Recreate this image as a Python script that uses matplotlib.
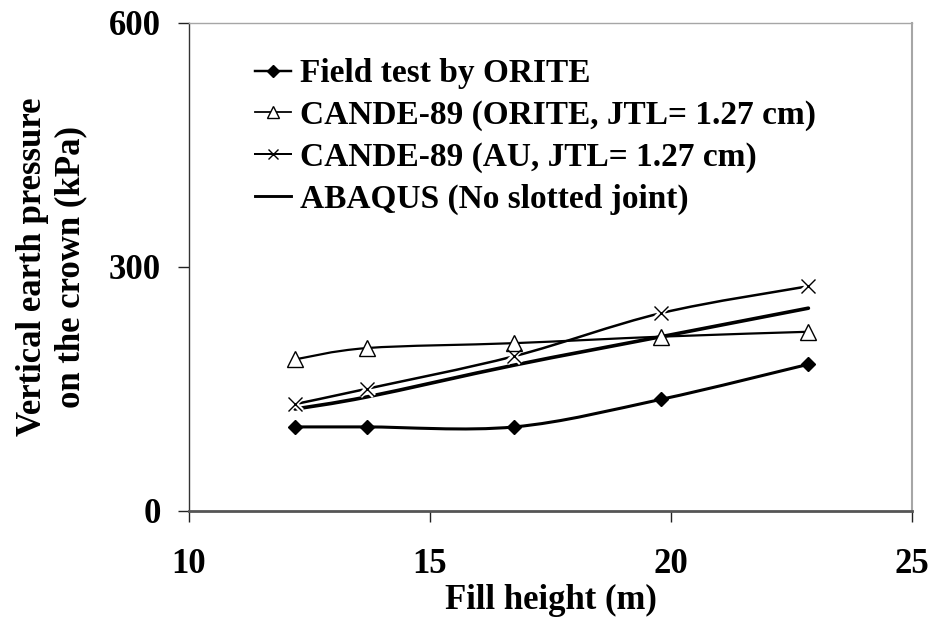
import numpy as np
import matplotlib
matplotlib.use("Agg")
import matplotlib.pyplot as plt
from matplotlib.path import Path
from matplotlib.patches import PathPatch
from matplotlib.lines import Line2D

plt.rcParams['font.family'] = ['Liberation Serif', 'DejaVu Serif']
plt.rcParams['font.weight'] = 'bold'

# fill heights (m)
fill_h = [12.2, 13.7, 16.75, 19.8, 22.85]

# vertical earth pressure at the crown (kPa)
field_orite = [103, 103, 103, 137, 180]
cande_orite = [186, 200, 206, 214, 220]
cande_au = [131, 150, 190, 243, 276]
abaqus = [125, 140, 179, 214, 249]


def smooth_path(x, y):
    # cubic Bezier through the points, like a spreadsheet "smoothed line"
    p = np.column_stack([x, y]).astype(float)
    n = len(p)
    verts = [p[0]]
    codes = [Path.MOVETO]
    for i in range(n - 1):
        p0 = p[i - 1] if i > 0 else p[i]
        p3 = p[i + 2] if i + 2 < n else p[i + 1]
        c1 = p[i] + (p[i + 1] - p0) / 6.0
        c2 = p[i + 1] - (p3 - p[i]) / 6.0
        verts += [c1, c2, p[i + 1]]
        codes += [Path.CURVE4] * 3
    return Path(verts, codes)


fig = plt.figure(figsize=(9.36, 6.24), dpi=100)
ax = fig.add_axes([0.2019, 0.1816, 0.7725, 0.782])

series = [
    (field_orite, 2.2, dict(marker='D', ms=7.5, mfc='black', mec='black'), 'Field test by ORITE'),
    (cande_orite, 1.6, dict(marker='^', ms=11, mfc='white', mec='black', mew=1.0), 'CANDE-89 (ORITE, JTL= 1.27 cm)'),
    (cande_au, 1.8, dict(marker='x', ms=10, mfc='none', mec='black', mew=1.0), 'CANDE-89 (AU, JTL= 1.27 cm)'),
    (abaqus, 2.6, dict(marker='None'), 'ABAQUS (No slotted joint)'),
]

handles = []
for ys, lw, mk, label in series:
    ax.add_patch(PathPatch(smooth_path(fill_h, ys), fill=False, lw=lw,
                           edgecolor='black', capstyle='round', zorder=2))
    if mk['marker'] == 'x':
        # white halo so the line breaks around the crosses
        ax.plot(fill_h, ys, ls='none', marker='x', ms=mk['ms'], mec='white',
                mew=4, zorder=2.5)
    if mk['marker'] != 'None':
        ax.plot(fill_h, ys, ls='none', zorder=3, **mk)
    hmk = dict(mk)
    if 'ms' in hmk:
        hmk['ms'] = hmk['ms'] * 0.75
    handles.append(Line2D([], [], color='black', lw=lw * 0.8, label=label, **hmk))

ax.set_xlim(10, 25)
ax.set_ylim(0, 600)
ax.set_xticks([10, 15, 20, 25])
ax.set_yticks([0, 300, 600])

ax.spines['top'].set_color('#a6a6a6')
ax.spines['right'].set_color('#a6a6a6')
ax.spines['top'].set_linewidth(1.0)
ax.spines['right'].set_linewidth(1.5)
ax.spines['bottom'].set_color('#555555')
ax.spines['bottom'].set_linewidth(2.0)
ax.spines['left'].set_color('#333333')
ax.spines['left'].set_linewidth(1.0)

ax.tick_params(axis='both', direction='out', length=8, width=1.0,
               color='#222222', labelsize=25)
ax.tick_params(axis='x', pad=19)
ax.tick_params(axis='y', pad=12)

ax.set_xlabel('Fill height (m)', fontsize=25, fontweight='bold', labelpad=2)
ax.set_ylabel('Vertical earth pressure\non the crown (kPa)', fontsize=25,
              fontweight='bold', labelpad=16, linespacing=1.18)

ax.legend(handles=handles, loc='upper left', bbox_to_anchor=(0.091, 0.927),
          frameon=False, fontsize=24, handlelength=1.08, handletextpad=0.27,
          labelspacing=0.32, borderaxespad=0, borderpad=0)

fig.savefig('out.png', dpi=100)
